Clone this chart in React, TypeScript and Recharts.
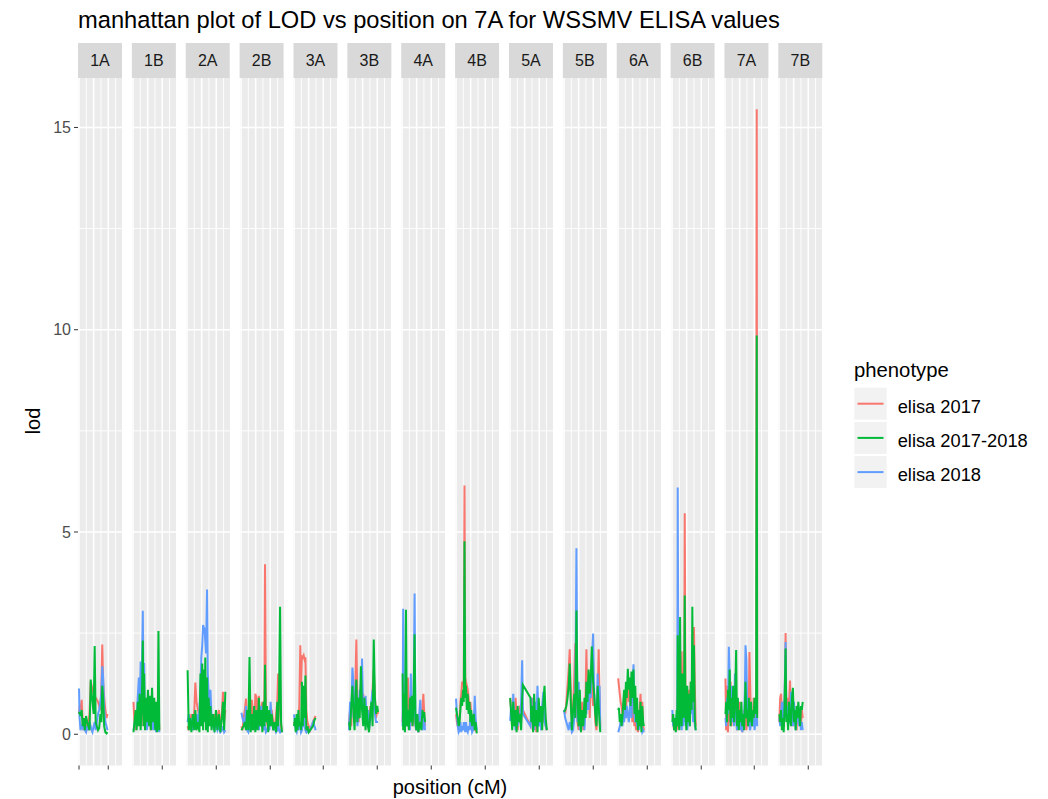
import { CartesianGrid, Line, LineChart, XAxis, YAxis } from "recharts";

// chromosomes, one facet each
const CHROMS = ["1A", "1B", "2A", "2B", "3A", "3B", "4A", "4B", "5A", "5B", "6A", "6B", "7A", "7B"];

// marker positions (cM) and LOD per phenotype, per chromosome
const pos1A = [0, 4, 10, 18, 25, 32, 40, 48, 56, 64, 72, 80, 86, 92, 100, 107, 114, 122, 130, 138, 146, 153, 159, 165, 172, 180, 188, 195];
const e17_1A = [0.5, 0.7, 0.6, 0.85, 0.3, 0.1, 0.4, 0.2, 0.1, 0.3, 0.5, 1.3, 1.2, 1.1, 1.0, 0.95, 0.9, 0.85, 0.8, 0.7, 0.6, 1.2, 2.22, 1.3, 0.9, 0.6, 0.4, 0.5];
const e1718_1A = [0.5, 0.55, 0.45, 0.6, 0.2, 0.4, 0.1, 0.45, 0.3, 0.2, 0.1, 1.35, 1.0, 0.8, 0.5, 2.18, 0.3, 0.2, 0.1, 0.15, 0.5, 0.3, 1.2, 0.9, 0.2, 0.05, 0.02, 0.05];
const e18_1A = [1.13, 0.4, 0.1, 0.2, 0.15, 0.3, 0.1, 0.05, 0.2, 0.1, 0.3, 0.2, 0.1, 0.05, 0.2, 0.3, 0.1, 0.3, 0.5, 0.6, 0.8, 1.0, 1.68, 1.4, 0.6, 0.3, 0.2, 0.1];

const pos1B = [3, 10, 18, 25, 32, 40, 45, 52, 58, 63, 67, 72, 76, 82, 88, 95, 102, 110, 117, 122, 130, 138, 145, 152, 158, 165, 170, 174, 180];
const e17_1B = [0.8, 0.3, 0.1, 0.5, 0.2, 0.9, 0.6, 0.3, 0.2, 0.7, 1.2, 0.8, 0.4, 0.3, 0.9, 0.2, 0.5, 0.8, 0.3, 0.1, 0.6, 0.8, 0.3, 0.7, 0.2, 0.5, 0.3, 0.6, 0.1];
const e1718_1B = [0.05, 0.3, 0.6, 0.1, 0.8, 0.2, 1.0, 0.1, 0.6, 1.3, 2.32, 0.2, 1.5, 0.1, 0.9, 0.3, 1.1, 0.2, 0.95, 0.1, 1.15, 0.3, 0.9, 0.1, 0.8, 0.05, 0.7, 2.55, 0.1];
const e18_1B = [0.1, 0.2, 0.5, 0.3, 0.9, 1.4, 0.4, 1.8, 0.6, 2.1, 3.05, 1.0, 1.76, 0.2, 0.5, 0.1, 0.3, 0.8, 0.2, 0.6, 0.3, 0.1, 0.5, 0.2, 0.05, 0.3, 0.1, 0.2, 0.05];

const pos2A = [4, 12, 20, 30, 40, 50, 57, 65, 75, 85, 92, 98, 104, 110, 114, 120, 125, 130, 137, 142, 148, 155, 160, 168, 178, 188, 198, 208, 218, 228, 238, 246, 254, 262];
const e17_2A = [0.2, 0.1, 0.3, 0.5, 0.2, 0.6, 1.28, 0.8, 0.6, 0.4, 0.3, 0.8, 0.6, 1.0, 0.7, 0.9, 0.5, 0.8, 1.0, 0.6, 0.7, 0.5, 0.7, 0.3, 0.2, 0.5, 0.3, 0.4, 0.6, 0.2, 0.5, 1.05, 0.3, 0.6];
const e1718_2A = [1.58, 0.1, 0.4, 0.05, 0.5, 0.1, 0.6, 0.1, 0.3, 0.05, 1.5, 0.2, 1.75, 0.1, 1.6, 0.3, 1.9, 0.1, 1.4, 0.05, 0.9, 0.2, 0.7, 0.1, 0.5, 0.05, 0.6, 0.1, 0.5, 0.05, 0.4, 0.8, 0.1, 1.05];
const e18_2A = [0.3, 0.5, 0.2, 0.4, 0.1, 0.3, 0.2, 0.5, 0.3, 0.6, 1.2, 1.9, 2.2, 2.7, 2.65, 2.6, 2.3, 2.0, 3.58, 1.5, 1.0, 0.6, 1.1, 0.4, 0.2, 0.1, 0.3, 0.1, 0.2, 0.05, 0.1, 0.2, 0.05, 0.1];

const pos2B = [3, 10, 18, 26, 34, 42, 50, 58, 66, 74, 82, 90, 98, 106, 114, 122, 130, 138, 146, 154, 160, 164, 170, 178, 186, 194, 202, 210, 220, 230, 240, 248, 254, 260, 267, 274, 280];
const e17_2B = [0.2, 0.1, 0.4, 0.6, 0.88, 0.3, 0.1, 0.4, 0.2, 0.85, 0.5, 0.1, 1.0, 0.9, 0.3, 0.95, 0.2, 0.6, 0.8, 0.4, 0.9, 4.2, 0.6, 0.3, 0.1, 0.4, 0.2, 0.6, 0.3, 0.1, 0.5, 0.8, 1.5, 1.3, 0.6, 0.2, 0.05];
const e1718_2B = [0.1, 0.15, 0.2, 0.3, 0.1, 0.6, 0.1, 1.91, 0.05, 0.5, 0.1, 0.7, 0.05, 0.6, 0.1, 0.9, 0.2, 0.6, 0.05, 0.8, 0.2, 1.72, 0.3, 0.7, 0.05, 0.6, 0.2, 0.5, 0.1, 0.3, 0.05, 0.8, 0.2, 0.9, 3.15, 0.3, 0.05];
const e18_2B = [0.53, 0.4, 0.3, 0.2, 0.7, 0.1, 0.05, 0.2, 0.1, 0.3, 0.5, 0.2, 0.1, 0.6, 0.3, 0.1, 0.4, 0.7, 0.2, 0.1, 0.3, 0.2, 0.05, 0.1, 0.2, 0.1, 0.8, 0.4, 0.1, 0.2, 0.05, 0.1, 0.3, 0.1, 0.05, 0.1, 0.05];

const pos3A = [0, 6, 12, 18, 24, 30, 36, 43, 48, 54, 60, 66, 72, 78, 84, 92, 100, 110, 120, 130, 140, 148];
const e17_3A = [0.3, 0.2, 0.4, 0.1, 0.5, 0.3, 0.7, 2.2, 1.2, 1.95, 1.9, 1.95, 1.85, 1.9, 0.6, 0.3, 0.2, 0.1, 0.2, 0.3, 0.4, 0.45];
const e1718_3A = [0.2, 0.4, 0.05, 0.5, 0.1, 0.6, 0.2, 0.3, 0.1, 1.3, 0.2, 1.2, 0.4, 1.45, 0.1, 0.2, 0.05, 0.1, 0.15, 0.2, 0.35, 0.4];
const e18_3A = [0.49, 0.3, 0.1, 0.05, 0.2, 0.1, 0.3, 0.2, 0.05, 0.1, 0.3, 0.5, 0.2, 0.1, 0.05, 0.1, 0.05, 0.1, 0.2, 0.3, 0.2, 0.1];

const pos3B = [7, 14, 22, 30, 38, 45, 51, 57, 64, 72, 80, 88, 96, 104, 112, 120, 128, 136, 144, 152, 160, 168, 176, 184, 192, 200, 205];
const e17_3B = [0.3, 0.6, 0.2, 1.2, 0.8, 0.3, 1.4, 2.34, 0.8, 0.3, 0.7, 1.2, 0.9, 1.0, 0.5, 0.8, 0.3, 0.6, 0.2, 0.7, 0.5, 1.1, 1.6, 0.9, 0.4, 0.6, 0.5];
const e1718_3B = [0.3, 0.1, 0.7, 1.2, 0.5, 0.1, 0.9, 1.35, 0.3, 0.9, 0.4, 1.68, 0.6, 0.2, 0.9, 0.1, 0.7, 0.2, 0.05, 0.5, 0.8, 0.2, 2.34, 0.9, 0.5, 0.7, 0.55];
const e18_3B = [0.1, 0.8, 0.4, 1.65, 1.2, 0.3, 0.6, 0.9, 0.2, 0.5, 1.1, 0.7, 1.87, 0.4, 0.8, 0.95, 0.3, 0.6, 0.1, 0.4, 0.8, 1.1, 0.7, 0.5, 0.3, 0.3, 0.3];

const pos4A = [4, 8, 14, 20, 27, 33, 40, 47, 54, 60, 66, 72, 78, 86, 92, 98, 105, 112, 118, 125, 132, 140, 146, 152, 157];
const e17_4A = [0.3, 0.8, 1.2, 0.4, 0.9, 0.2, 1.4, 0.6, 0.3, 1.0, 0.5, 0.2, 0.4, 0.8, 0.3, 0.1, 0.2, 0.05, 0.4, 0.6, 0.3, 0.7, 1.0, 0.5, 0.2];
const e1718_4A = [1.5, 0.1, 1.0, 0.05, 3.08, 0.2, 0.6, 0.1, 0.9, 0.3, 0.95, 0.2, 0.7, 2.47, 0.3, 0.1, 0.5, 0.05, 0.2, 0.3, 0.1, 0.6, 0.4, 0.55, 0.3];
const e18_4A = [0.2, 3.1, 0.5, 0.1, 0.8, 0.3, 0.2, 0.6, 0.1, 1.5, 0.3, 0.7, 0.4, 3.48, 0.2, 0.1, 0.3, 0.05, 0.5, 0.85, 0.3, 0.1, 0.2, 0.4, 0.1];

const pos4B = [0, 6, 12, 18, 24, 30, 36, 42, 48, 53, 58, 63, 68, 74, 80, 86, 92, 98, 104, 110, 116, 122, 128, 134, 142];
const e17_4B = [0.5, 0.3, 0.2, 0.1, 0.4, 0.8, 1.0, 1.3, 1.2, 1.35, 6.15, 1.4, 1.3, 1.2, 1.1, 0.9, 0.6, 0.8, 0.5, 0.4, 0.2, 0.1, 0.2, 0.1, 0.05];
const e1718_4B = [0.66, 0.5, 0.4, 0.2, 0.3, 0.6, 0.9, 0.7, 1.1, 0.8, 4.77, 0.9, 1.2, 0.6, 1.0, 0.5, 0.8, 0.3, 0.6, 0.2, 0.4, 0.5, 0.1, 0.3, 0.02];
const e18_4B = [0.88, 0.5, 0.2, 0.05, 0.1, 0.3, 0.05, 0.2, 0.1, 0.3, 0.2, 0.05, 0.3, 0.1, 0.05, 0.2, 0.1, 0.4, 0.2, 0.05, 0.1, 0.3, 0.95, 0.4, 0.1];

const pos5A = [1, 8, 15, 22, 30, 38, 45, 52, 60, 68, 76, 83, 88, 140, 146, 152, 158, 165, 172, 180, 188, 196, 204, 212, 220, 228, 236, 244, 252];
const e17_5A = [0.88, 0.6, 0.2, 0.7, 0.3, 0.9, 0.5, 0.1, 0.4, 0.7, 0.3, 0.8, 0.6, 0.2, 0.5, 0.9, 0.1, 0.6, 0.3, 0.05, 0.4, 0.8, 0.2, 0.5, 0.7, 0.3, 0.9, 0.2, 0.1];
const e1718_5A = [0.9, 0.5, 0.1, 0.8, 0.2, 0.6, 0.05, 0.7, 0.3, 0.5, 0.1, 0.9, 1.22, 0.9, 0.3, 0.7, 0.05, 1.0, 0.2, 0.6, 0.05, 0.9, 0.3, 0.7, 0.1, 0.8, 1.2, 0.4, 0.1];
const e18_5A = [0.33, 0.7, 0.2, 1.0, 0.4, 0.1, 0.6, 0.2, 0.5, 0.3, 0.8, 1.83, 0.5, 0.2, 0.9, 0.3, 0.6, 0.1, 0.8, 0.4, 1.2, 0.2, 0.5, 0.1, 0.7, 1.05, 0.3, 0.2, 0.1];

const pos5B = [0, 8, 16, 24, 32, 39, 46, 54, 62, 70, 77, 85, 92, 100, 108, 116, 124, 132, 140, 148, 153, 160, 168, 176, 183, 190, 199, 206, 214, 222, 230, 237, 243, 248];
const e17_5B = [0.6, 0.5, 0.8, 1.2, 1.6, 2.1, 1.1, 0.2, 0.6, 1.4, 2.25, 1.0, 0.3, 0.1, 0.5, 0.2, 0.8, 0.1, 0.6, 1.0, 2.1, 0.9, 1.3, 0.4, 1.6, 1.2, 0.7, 1.0, 0.3, 0.1, 0.8, 2.1, 0.9, 0.2];
const e1718_5B = [0.55, 0.6, 0.7, 0.9, 1.2, 1.75, 0.8, 0.1, 0.6, 1.0, 0.4, 3.06, 0.9, 0.2, 1.1, 0.05, 0.6, 0.2, 0.9, 0.4, 1.3, 0.8, 1.6, 1.0, 1.4, 2.17, 1.3, 1.0, 0.5, 0.2, 1.2, 0.7, 0.3, 0.05];
const e18_5B = [0.6, 0.4, 0.3, 0.2, 0.1, 0.3, 0.2, 0.05, 0.1, 0.4, 0.8, 4.6, 0.3, 1.3, 0.1, 0.4, 0.2, 0.6, 0.1, 0.8, 0.5, 1.2, 0.6, 1.5, 0.9, 1.8, 2.49, 1.0, 0.6, 0.3, 1.5, 0.8, 1.2, 0.1];

const pos6A = [1, 6, 12, 18, 24, 30, 36, 42, 48, 54, 60, 67, 74, 80, 86, 92, 98, 106, 112, 118, 124, 130, 136, 142, 148, 154, 160, 166, 172, 177];
const e17_6A = [1.38, 1.2, 1.0, 0.8, 0.7, 0.5, 0.3, 0.6, 0.9, 0.4, 1.1, 1.3, 0.8, 1.2, 0.6, 0.9, 0.3, 0.5, 0.2, 0.4, 0.1, 0.3, 0.05, 0.2, 0.6, 1.0, 0.4, 0.8, 0.2, 0.1];
const e1718_6A = [0.6, 0.65, 0.3, 0.5, 0.2, 0.4, 0.8, 1.1, 0.6, 1.3, 0.9, 1.62, 1.1, 1.4, 0.7, 1.55, 0.9, 1.6, 0.5, 1.2, 0.3, 0.9, 0.1, 0.6, 0.2, 0.8, 0.05, 0.7, 0.3, 0.2];
const e18_6A = [0.05, 0.1, 0.2, 0.3, 0.4, 0.2, 0.5, 0.3, 0.6, 0.4, 0.7, 0.5, 0.3, 0.6, 0.9, 0.4, 1.2, 1.73, 0.5, 0.3, 0.8, 0.2, 0.5, 0.1, 0.3, 0.6, 0.2, 0.05, 0.1, 0.05];

const pos6B = [2, 8, 14, 20, 26, 32, 36, 39, 44, 50, 55, 60, 66, 72, 78, 83, 87, 92, 98, 104, 110, 116, 122, 128, 134, 139, 144, 150, 156, 162];
const e17_6B = [0.5, 0.3, 0.1, 0.2, 0.4, 0.1, 0.3, 0.9, 0.2, 0.6, 1.0, 2.05, 0.4, 0.8, 2.05, 0.6, 5.46, 1.2, 0.3, 0.8, 0.5, 1.1, 0.4, 1.3, 0.7, 1.0, 0.5, 2.65, 1.2, 0.2];
const e1718_6B = [0.3, 0.5, 0.1, 0.4, 0.05, 0.6, 0.2, 2.45, 0.3, 0.1, 2.9, 0.6, 0.2, 1.5, 0.4, 0.9, 3.43, 0.5, 0.1, 1.2, 0.3, 1.0, 0.2, 1.3, 0.6, 3.15, 0.8, 2.2, 0.4, 0.1];
const e18_6B = [0.6, 0.2, 0.4, 0.1, 0.3, 0.5, 0.2, 6.1, 0.4, 0.2, 0.8, 0.3, 0.1, 0.6, 0.2, 0.5, 1.2, 0.3, 0.7, 0.1, 0.4, 0.9, 0.2, 1.0, 0.5, 1.35, 0.3, 0.6, 0.2, 0.1];

const pos7A = [3, 8, 14, 20, 26, 32, 38, 44, 50, 56, 62, 68, 76, 82, 88, 94, 100, 106, 112, 118, 124, 130, 136, 140, 146, 152, 158, 163, 167, 172, 178, 184, 190, 196, 202, 208, 213, 217, 220];
const e17_7A = [1.38, 0.1, 1.2, 0.05, 0.9, 0.3, 1.3, 0.2, 0.8, 0.4, 1.0, 0.3, 0.6, 0.1, 0.5, 0.2, 0.8, 0.1, 0.4, 0.05, 0.3, 0.6, 0.2, 0.5, 0.1, 0.4, 0.2, 0.8, 2.03, 1.2, 0.3, 0.6, 0.2, 0.9, 0.4, 0.7, 1.0, 15.45, 0.5];
const e1718_7A = [0.5, 0.8, 0.3, 1.1, 0.6, 1.6, 0.2, 0.9, 0.4, 1.2, 0.3, 0.7, 2.08, 0.2, 0.9, 0.1, 0.6, 0.3, 0.8, 0.2, 0.5, 0.1, 0.7, 1.3, 0.4, 0.6, 0.2, 0.9, 0.3, 0.5, 0.8, 0.2, 0.6, 0.4, 0.9, 0.5, 0.8, 9.86, 0.4];
const e18_7A = [0.4, 0.2, 0.9, 0.5, 2.16, 1.4, 0.6, 1.2, 0.3, 0.8, 0.2, 1.5, 0.4, 0.1, 0.6, 0.2, 0.3, 0.1, 0.5, 0.05, 0.2, 0.4, 1.1, 2.2, 1.85, 0.6, 0.3, 0.5, 0.2, 0.1, 0.3, 0.6, 0.2, 0.4, 0.1, 0.3, 0.5, 0.7, 0.2];

const pos7B = [2, 8, 14, 20, 26, 32, 38, 45, 50, 56, 62, 68, 75, 82, 88, 95, 102, 108, 114, 120, 126, 132, 138, 144, 150, 156, 162];
const e17_7B = [0.3, 0.9, 1.0, 0.4, 0.8, 0.2, 0.6, 2.5, 0.5, 0.9, 0.3, 0.7, 1.33, 0.4, 0.8, 0.2, 0.6, 0.3, 0.5, 0.1, 0.7, 0.4, 0.3, 0.5, 0.2, 0.6, 0.4];
const e1718_7B = [0.5, 0.3, 0.6, 0.1, 0.4, 0.05, 0.7, 2.12, 0.3, 0.5, 0.1, 0.8, 0.4, 0.2, 0.9, 1.15, 0.3, 0.6, 0.1, 0.7, 0.4, 0.8, 0.5, 0.2, 0.7, 0.6, 0.8];
const e18_7B = [0.4, 0.2, 0.5, 0.8, 0.3, 0.6, 0.9, 2.28, 0.4, 0.7, 0.2, 0.5, 0.3, 1.05, 0.6, 0.2, 0.8, 0.4, 0.1, 0.5, 0.7, 0.3, 0.2, 0.4, 0.1, 0.3, 0.1];

const POS = [pos1A, pos1B, pos2A, pos2B, pos3A, pos3B, pos4A, pos4B, pos5A, pos5B, pos6A, pos6B, pos7A, pos7B];
const E17 = [e17_1A, e17_1B, e17_2A, e17_2B, e17_3A, e17_3B, e17_4A, e17_4B, e17_5A, e17_5B, e17_6A, e17_6B, e17_7A, e17_7B];
const E1718 = [e1718_1A, e1718_1B, e1718_2A, e1718_2B, e1718_3A, e1718_3B, e1718_4A, e1718_4B, e1718_5A, e1718_5B, e1718_6A, e1718_6B, e1718_7A, e1718_7B];
const E18 = [e18_1A, e18_1B, e18_2A, e18_2B, e18_3A, e18_3B, e18_4A, e18_4B, e18_5A, e18_5B, e18_6A, e18_6B, e18_7A, e18_7B];

const SERIES = [
  { key: "e17", name: "elisa 2017", color: "#F8766D" },
  { key: "e1718", name: "elisa 2017-2018", color: "#00BA38" },
  { key: "e18", name: "elisa 2018", color: "#619CFF" },
];
// green is drawn last so it sits on top
const DRAW_ORDER = ["e17", "e18", "e1718"];

const Y_MAJOR = [0, 5, 10, 15];
const Y_MINOR = [2.5, 7.5, 12.5];
const X_MAJOR = [0, 100, 200];
const X_MINOR = [50, 150, 250];
const Y_DOMAIN: [number, number] = [-0.7725, 16.2225];
const X_DOMAIN: [number, number] = [-7, 294];

// layout (px)
const FONT = "'Liberation Sans', Arial, Helvetica, sans-serif";
const PANEL_LEFT = 78;
const PANEL_STEP = 53.87;
const PANEL_W = 44;
const PANEL_TOP = 78;
const PANEL_H = 687.5;
const STRIP_TOP = 43;
const STRIP_H = 35;
const AXIS_H = 10;
const Y_AXIS_W = 78;

const NoLabel = () => <g />;

// map a value through the axis scale; linear fallback over the plot box
function project(axis: any, v: number, dom: [number, number], start: number, size: number, flip: boolean) {
  const s = axis && axis.scale;
  try {
    if (typeof s === "function") return s(v);
    if (s && typeof s.map === "function") return s.map(v);
  } catch (e) {
    /* fall through */
  }
  const t = (v - dom[0]) / (dom[1] - dom[0]);
  return flip ? start + (1 - t) * size : start + t * size;
}
const xLines = (vals: number[]) => ({ xAxis, offset }: any) =>
  vals.map((v) => project(xAxis, v, X_DOMAIN, offset.left, offset.width, false));
const yLines = (vals: number[]) => ({ yAxis, offset }: any) =>
  vals.map((v) => project(yAxis, v, Y_DOMAIN, offset.top, offset.height, true));

function Panel({ idx }: { idx: number }) {
  const rows = POS[idx].map((p, i) => ({ pos: p, e17: E17[idx][i], e1718: E1718[idx][i], e18: E18[idx][i] }));
  const first = idx === 0;
  const left = first ? 0 : PANEL_LEFT + idx * PANEL_STEP;
  const width = first ? Y_AXIS_W + PANEL_W : PANEL_W;
  return (
    <div style={{ position: "absolute", left, top: PANEL_TOP, width, height: PANEL_H + AXIS_H }}>
      <LineChart width={width} height={PANEL_H + AXIS_H} data={rows} margin={{ top: 0, right: 0, bottom: 0, left: 0 }}>
        <CartesianGrid fill="#EBEBEB" stroke="#FFFFFF" strokeWidth={0.9}
          horizontalCoordinatesGenerator={yLines(Y_MINOR)} verticalCoordinatesGenerator={xLines(X_MINOR)} />
        <CartesianGrid stroke="#FFFFFF" strokeWidth={1.5}
          horizontalCoordinatesGenerator={yLines(Y_MAJOR)} verticalCoordinatesGenerator={xLines(X_MAJOR)} />
        <XAxis dataKey="pos" type="number" domain={X_DOMAIN} ticks={X_MAJOR} allowDataOverflow
          tick={NoLabel} tickLine={{ stroke: "#333333" }} tickSize={4} axisLine={false} height={AXIS_H} />
        <YAxis type="number" domain={Y_DOMAIN} ticks={Y_MAJOR} allowDataOverflow hide={!first}
          width={Y_AXIS_W} tick={{ fill: "#4D4D4D", fontSize: 16, fontFamily: FONT }}
          tickLine={{ stroke: "#333333" }} tickSize={4} tickMargin={3} axisLine={false} />
        {DRAW_ORDER.map((k) => {
          const s = SERIES.find((x) => x.key === k)!;
          return (
            <Line key={k} type="linear" dataKey={k} stroke={s.color} strokeWidth={2}
              dot={false} activeDot={false} isAnimationActive={false} />
          );
        })}
      </LineChart>
    </div>
  );
}

export default function App() {
  return (
    <div style={{ position: "absolute", left: 0, top: 0, width: 1048, height: 799, background: "#FFFFFF", fontFamily: FONT }}>
      <svg width={1048} height={799} style={{ position: "absolute", left: 0, top: 0 }}>
        <text x={78} y={28} fontSize={23.7} fill="#000000">
          manhattan plot of LOD vs position on 7A for WSSMV ELISA values
        </text>
        {CHROMS.map((c, i) => {
          const x = PANEL_LEFT + i * PANEL_STEP;
          return (
            <g key={c}>
              <rect x={x} y={STRIP_TOP} width={PANEL_W} height={STRIP_H} fill="#D9D9D9" />
              <text x={x + PANEL_W / 2} y={STRIP_TOP + 23} fontSize={16} fill="#1A1A1A" textAnchor="middle">{c}</text>
            </g>
          );
        })}
        <text x={40} y={421} fontSize={20} fill="#000000" textAnchor="middle" transform="rotate(-90 40 421)">lod</text>
        <text x={450} y={794} fontSize={20} fill="#000000" textAnchor="middle">position (cM)</text>
        <text x={854} y={377} fontSize={20.3} fill="#000000">phenotype</text>
        {SERIES.map((s, i) => {
          const top = 387.7 + i * 34.2;
          return (
            <g key={s.key}>
              <rect x={854.3} y={top} width={32.4} height={32} fill="#F2F2F2" />
              <line x1={857.5} x2={883.5} y1={top + 16} y2={top + 16} stroke={s.color} strokeWidth={2} />
              <text x={897.7} y={top + 25} fontSize={18.3} fill="#000000">{s.name}</text>
            </g>
          );
        })}
      </svg>
      {CHROMS.map((c, i) => <Panel key={c} idx={i} />)}
    </div>
  );
}
